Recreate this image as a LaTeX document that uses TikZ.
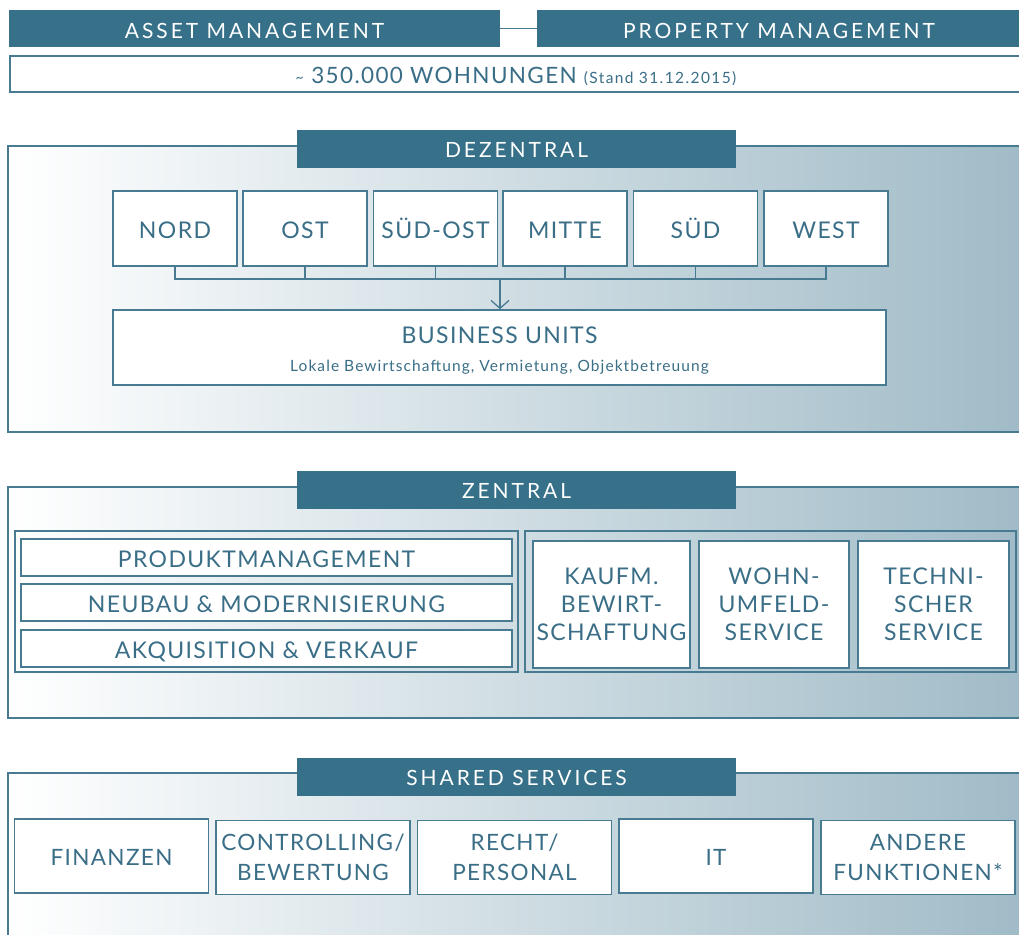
\documentclass[tikz,border=0pt]{standalone}
\usepackage{fontspec}
\setmainfont[LetterSpace=6]{Lato}
\newfontfamily\hdrfont[LetterSpace=14]{Lato}
\newfontfamily\subfont[LetterSpace=9]{Lato}
\newfontfamily\bufont[LetterSpace=7]{Lato}
\usetikzlibrary{arrows.meta}
\definecolor{teal}{RGB}{54,112,137}
\definecolor{tealtxt}{RGB}{58,110,135}
\definecolor{linec}{RGB}{72,122,146}
\definecolor{gradr}{RGB}{160,187,199}
\tikzset{
  hdr/.style={fill=teal, text=white, inner sep=0pt, font=\hdrfont\fontsize{21}{24}\selectfont,
     text height=17pt, text depth=0pt},
  panel/.style={draw=linec, line width=1.6pt, left color=white, right color=gradr, shading angle=90, inner sep=0pt},
  wbox/.style={draw=linec, line width=1.5pt, fill=white, text=tealtxt, inner sep=0pt, align=center,
     font=\fontsize{23}{28}\selectfont},
  sbox/.style={wbox, text height=19.5pt, text depth=0pt},
  ssbox/.style={wbox, font=\fontsize{22.5}{29.5}\selectfont},
  grp/.style={draw=linec, line width=1.3pt, inner sep=0pt},
  conn/.style={draw=linec, line width=1.3pt},
}
\begin{document}
\begin{tikzpicture}[x=1pt,y=-1pt]
\useasboundingbox (0,0) rectangle (1019,934);
% top
\node[hdr, minimum width=491pt, minimum height=37pt, text height=19pt] (asset) at (254.5,28.5) {ASSET MANAGEMENT};
\node[hdr, minimum width=484pt, minimum height=37pt, text height=19pt] (prop) at (779,28.5) {PROPERTY MANAGEMENT};
\draw[conn] (asset.east) -- (prop.west);
\node[wbox, minimum width=1012pt, minimum height=36pt, text height=19pt, text depth=0pt] (wohn) at (516,74)
  {\fontsize{22.5}{28}\selectfont \raisebox{1pt}{\fontsize{14}{16}\selectfont\textasciitilde}\,\,350.000 WOHNUNGEN {\subfont\fontsize{15.5}{18}\selectfont(Stand 31.12.2015)}};
% DEZENTRAL
\node[panel, minimum width=1014pt, minimum height=286pt] (dez) at (515,289) {};
\node[hdr, minimum width=439pt, minimum height=38pt] (dezt) at (516.5,149) {DEZENTRAL};
\foreach \n/\t/\cx in {nord/NORD/175, ost/OST/305, suedost/SÜD-OST/435.5, mitte/MITTE/565, sued/SÜD/695.5, west/WEST/826}{
  \node[sbox, minimum width=124pt, minimum height=75pt] (\n) at (\cx,228.5) {\t};
}
\node[wbox, minimum width=773pt, minimum height=75pt] (bu) at (499.5,347.5) {};
\node[text=tealtxt, font=\fontsize{23}{28}\selectfont, inner sep=0pt, text height=16.5pt, text depth=0pt] (butitle) at (499.5,335) {BUSINESS UNITS};
\node[text=tealtxt, font=\bufont\fontsize{15.5}{18}\selectfont, inner sep=0pt] (busub) at (499.5,367) {Lokale Bewirtschaftung, Vermietung, Objektbetreuung};
\coordinate (busl) at (175,279);
\coordinate (busr) at (826,279);
\coordinate (busm) at (500,279);
\draw[conn] (nord.south) |- (busl) -- (busr) -| (west.south);
\foreach \n in {ost,suedost,mitte,sued}{ \draw[conn] (\n.south) -- (\n.south |- busl); }
\draw[conn, -{Straight Barb[length=8pt,width=18pt]}] (busm) -- (busm |- bu.north);
% ZENTRAL
\node[panel, minimum width=1014pt, minimum height=231pt] (zen) at (515,602.5) {};
\node[hdr, minimum width=439pt, minimum height=38pt] (zent) at (516.5,489.5) {ZENTRAL};
\node[grp, minimum width=503pt, minimum height=141pt] (gl) at (266.5,601.5) {};
\node[grp, minimum width=491pt, minimum height=141pt] (gr) at (770.5,601.5) {};
\node[sbox, minimum width=491pt, minimum height=37pt] (prod) at (266.5,557.5) {PRODUKTMANAGEMENT};
\node[sbox, minimum width=491pt, minimum height=37pt] (neu) at (266.5,602.5) {NEUBAU \& MODERNISIERUNG};
\node[sbox, minimum width=491pt, minimum height=37pt] (akq) at (266.5,648.5) {AKQUISITION \& VERKAUF};
\node[wbox, minimum width=157pt, minimum height=127pt] (kauf) at (611.5,604.5) {KAUFM.\\BEWIRT-\\SCHAFTUNG};
\node[wbox, minimum width=150pt, minimum height=127pt] (wuf) at (774,604.5) {WOHN-\\UMFELD-\\SERVICE};
\node[wbox, minimum width=151pt, minimum height=127pt] (tech) at (933.5,604.5) {TECHNI-\\SCHER\\SERVICE};
% SHARED
\node[panel, minimum width=1014pt, minimum height=170pt] (sha) at (515,858) {};
\node[hdr, minimum width=439pt, minimum height=38pt] (shat) at (516.5,776.5) {SHARED SERVICES};
\node[ssbox, minimum width=194pt, minimum height=74pt, text height=19.5pt, text depth=0pt] (fin) at (111.5,856) {FINANZEN};
\node[ssbox, minimum width=194pt, minimum height=74pt] (con) at (313,857.5) {CONTROLLING/\\BEWERTUNG};
\node[ssbox, minimum width=194pt, minimum height=74pt] (rec) at (514.5,857.5) {RECHT/\\PERSONAL};
\node[ssbox, minimum width=194pt, minimum height=74pt, text height=19.5pt, text depth=0pt] (it) at (716,856) {IT};
\node[ssbox, minimum width=194pt, minimum height=74pt] (and) at (918,857.5) {ANDERE\\FUNKTIONEN*};
\end{tikzpicture}
\end{document}
